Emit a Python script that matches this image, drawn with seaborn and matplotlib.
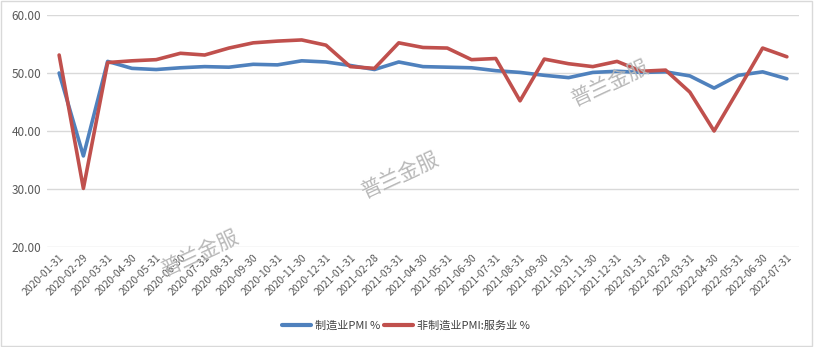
import matplotlib
matplotlib.use("Agg")
import matplotlib.pyplot as plt
import matplotlib.patches as mpatches
import seaborn as sns
import pandas as pd

dates = [
    "2020-01-31", "2020-02-29", "2020-03-31", "2020-04-30", "2020-05-31", "2020-06-30",
    "2020-07-31", "2020-08-31", "2020-09-30", "2020-10-31", "2020-11-30", "2020-12-31",
    "2021-01-31", "2021-02-28", "2021-03-31", "2021-04-30", "2021-05-31", "2021-06-30",
    "2021-07-31", "2021-08-31", "2021-09-30", "2021-10-31", "2021-11-30", "2021-12-31",
    "2022-01-31", "2022-02-28", "2022-03-31", "2022-04-30", "2022-05-31", "2022-06-30",
    "2022-07-31",
]
manufacturing_pmi = [
    50.0, 35.7, 52.0, 50.8, 50.6, 50.9, 51.1, 51.0, 51.5, 51.4, 52.1, 51.9,
    51.3, 50.6, 51.9, 51.1, 51.0, 50.9, 50.4, 50.1, 49.6, 49.2, 50.1, 50.3,
    50.1, 50.2, 49.5, 47.4, 49.6, 50.2, 49.0,
]
services_pmi = [
    53.1, 30.1, 51.8, 52.1, 52.3, 53.4, 53.1, 54.3, 55.2, 55.5, 55.7, 54.8,
    51.1, 50.8, 55.2, 54.4, 54.3, 52.3, 52.5, 45.2, 52.4, 51.6, 51.1, 52.0,
    50.3, 50.5, 46.7, 40.0, 47.1, 54.3, 52.8,
]
series_names = ["制造业PMI %", "非制造业PMI:服务业 %"]
series_colors = ["#4F81BD", "#C0504D"]
y_ticks = [20, 30, 40, 50, 60]

sns.set_theme(style="white")
plt.rcParams["font.family"] = ["Noto Sans CJK SC", "DejaVu Sans"]

df = pd.DataFrame({
    "date": dates * 2,
    "value": manufacturing_pmi + services_pmi,
    "series": [series_names[0]] * len(dates) + [series_names[1]] * len(dates),
})
df["pos"] = list(range(len(dates))) * 2

fig = plt.figure(figsize=(8.14, 3.47), dpi=100)
ax = fig.add_axes([47 / 814, 100 / 347, 752 / 814, 232 / 347])

sns.lineplot(
    data=df, x="pos", y="value", hue="series", palette=series_colors,
    hue_order=series_names, linewidth=2.6, ax=ax, legend=False,
)

ax.set_xlim(-0.5, len(dates) - 0.5)
ax.set_ylim(20, 60)
ax.set_yticks(y_ticks)
ax.set_yticklabels([f"{v:.2f}" for v in y_ticks], fontsize=8.5, color="#595959")
ax.set_xticks(range(len(dates)))
ax.set_xticklabels(dates, rotation=45, ha="right", rotation_mode="anchor",
                   fontsize=7.5, color="#595959")
ax.tick_params(axis="both", length=0, pad=4)
ax.set_xlabel("")
ax.set_ylabel("")
for s in ax.spines.values():
    s.set_visible(False)
ax.yaxis.grid(True, color="#d9d9d9", linewidth=1)
ax.set_axisbelow(True)

# watermarks
for (wx, wy) in [(200, 253), (400, 175), (610, 83)]:
    fig.text(wx / 814, 1 - wy / 347, "普兰金服", fontsize=15, color="#b8b8b8",
             rotation=25, ha="center", va="center", fontweight="medium")

handles = [plt.Line2D([], [], color=c, linewidth=3) for c in series_colors]
fig.legend(handles, series_names, loc="center", bbox_to_anchor=(406 / 814, 1 - 326 / 347),
           ncol=2, frameon=False, fontsize=8, handlelength=2.6, columnspacing=0.4,
           handletextpad=0.3, labelcolor="#404040")

fig.patches.append(mpatches.Rectangle((0.001, 0.002), 0.997, 0.995, transform=fig.transFigure,
                                      fill=False, edgecolor="#d9d9d9", linewidth=1))

fig.savefig("out.png", dpi=100)
